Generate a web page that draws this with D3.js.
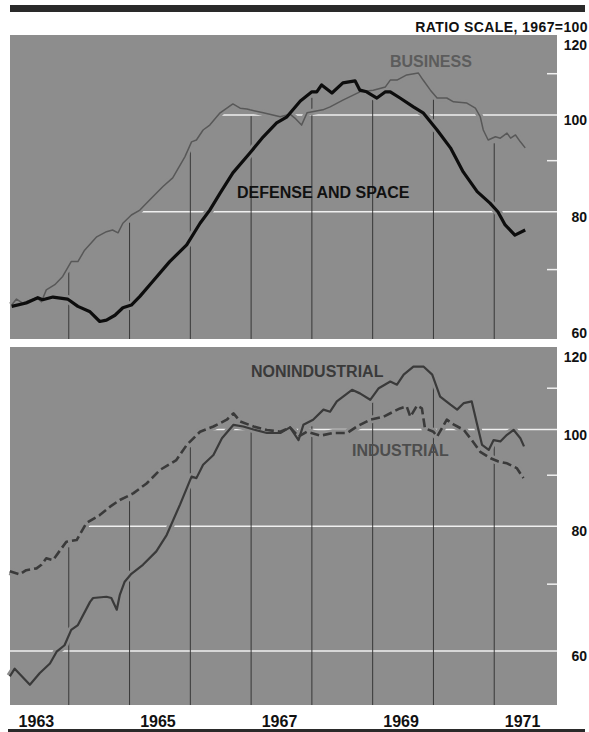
<!DOCTYPE html>
<html>
<head>
<meta charset="utf-8">
<script src="https://cdn.jsdelivr.net/npm/d3@7"></script>
<style>
  body { margin: 0; background: #fff; }
  svg { display: block; font-family: "Liberation Sans", Arial, sans-serif; font-weight: bold; }
  .yr { font-family: "Liberation Sans Narrow", "Liberation Sans", Arial, sans-serif; }
</style>
</head>
<body>
<svg id="chart" width="589" height="732"></svg>
<script>
// ratio scale, 1967 = 100 ; [year, index]
const business = [[1963.06,64.5],[1963.14,65.4],[1963.24,64.8],[1963.47,65.6],[1963.55,65.0],[1963.63,66.8],[1963.77,67.6],[1963.90,68.9],[1964.04,71.3],[1964.15,71.3],[1964.26,73.2],[1964.46,75.5],[1964.62,76.4],[1964.72,76.7],[1964.81,76.2],[1964.89,77.9],[1965.03,79.4],[1965.17,80.3],[1965.33,82.2],[1965.55,84.8],[1965.71,86.5],[1965.91,90.8],[1966.02,94.0],[1966.10,94.4],[1966.21,96.6],[1966.32,97.7],[1966.49,100.5],[1966.70,102.6],[1966.82,101.6],[1966.93,101.4],[1966.98,101.2],[1967.20,100.5],[1967.48,99.6],[1967.64,100.2],[1967.72,99.3],[1967.83,97.7],[1967.92,100.5],[1968.18,101.2],[1968.30,101.9],[1968.51,103.5],[1968.79,105.5],[1969.01,105.9],[1969.21,106.7],[1969.29,108.4],[1969.40,108.4],[1969.56,109.7],[1969.75,110.2],[1969.83,108.4],[1969.95,105.9],[1970.06,104.0],[1970.22,104.0],[1970.33,103.1],[1970.55,102.8],[1970.69,101.6],[1970.77,99.6],[1970.82,96.6],[1970.90,94.4],[1971.02,95.1],[1971.10,94.8],[1971.21,95.9],[1971.27,94.8],[1971.35,95.5],[1971.43,94.0],[1971.51,92.7]];

const defense = [[1963.06,64.3],[1963.30,64.8],[1963.49,65.6],[1963.57,65.3],[1963.74,65.7],[1963.98,65.4],[1964.15,64.3],[1964.35,63.5],[1964.51,62.1],[1964.62,62.3],[1964.76,63.0],[1964.89,64.1],[1965.03,64.5],[1965.17,65.8],[1965.38,68.1],[1965.66,71.3],[1965.94,74.1],[1966.16,77.9],[1966.32,80.3],[1966.49,83.5],[1966.70,87.5],[1966.98,91.6],[1967.20,95.1],[1967.42,98.2],[1967.59,99.6],[1967.81,103.3],[1968.00,105.5],[1968.08,105.5],[1968.16,107.2],[1968.33,105.2],[1968.51,107.7],[1968.71,108.2],[1968.79,105.9],[1968.90,105.5],[1969.07,104.0],[1969.21,105.5],[1969.29,105.5],[1969.45,104.0],[1969.67,101.9],[1969.83,100.5],[1970.06,96.6],[1970.28,92.7],[1970.49,87.7],[1970.72,83.8],[1970.93,81.6],[1971.06,80.0],[1971.18,77.6],[1971.34,75.8],[1971.51,76.7]];

const nonindustrial = [[1963.03,56.6],[1963.11,57.6],[1963.36,55.5],[1963.52,57.0],[1963.69,58.3],[1963.80,59.9],[1963.93,60.8],[1964.04,63.0],[1964.15,63.7],[1964.35,67.2],[1964.40,67.8],[1964.62,68.0],[1964.70,67.8],[1964.79,66.0],[1964.84,68.3],[1964.92,70.4],[1965.03,71.7],[1965.22,73.2],[1965.44,75.5],[1965.61,78.4],[1965.83,84.1],[1966.02,89.7],[1966.10,89.4],[1966.21,92.2],[1966.38,94.3],[1966.52,98.0],[1966.71,101.1],[1966.87,100.7],[1967.04,100.0],[1967.26,99.2],[1967.48,99.2],[1967.64,100.5],[1967.78,97.6],[1967.86,101.1],[1968.02,102.3],[1968.19,104.7],[1968.30,104.2],[1968.41,106.7],[1968.66,109.6],[1968.79,108.7],[1968.96,107.1],[1969.10,110.0],[1969.29,111.7],[1969.40,110.9],[1969.51,113.5],[1969.67,115.6],[1969.84,115.6],[1969.98,113.5],[1970.11,107.9],[1970.28,105.9],[1970.39,104.7],[1970.50,106.3],[1970.63,106.7],[1970.72,101.1],[1970.80,96.5],[1970.91,95.4],[1970.99,97.6],[1971.10,97.3],[1971.21,98.8],[1971.32,99.9],[1971.43,98.0],[1971.49,96.2]];

const industrial = [[1963.03,72.1],[1963.19,71.6],[1963.30,72.3],[1963.47,72.6],[1963.55,73.2],[1963.63,74.3],[1963.74,74.0],[1963.96,77.2],[1964.13,77.5],[1964.29,80.6],[1964.51,82.1],[1964.68,83.7],[1964.84,85.0],[1965.06,86.3],[1965.28,88.3],[1965.50,91.1],[1965.77,93.2],[1965.94,96.5],[1966.16,99.5],[1966.38,100.7],[1966.60,102.3],[1966.71,103.8],[1966.82,101.9],[1967.04,100.7],[1967.26,99.9],[1967.48,99.5],[1967.64,100.5],[1967.78,98.4],[1967.92,99.5],[1968.14,98.6],[1968.35,99.2],[1968.58,99.2],[1968.74,100.7],[1968.96,102.3],[1969.18,103.0],[1969.34,104.2],[1969.45,105.0],[1969.56,105.5],[1969.62,103.0],[1969.73,105.7],[1969.81,105.0],[1969.86,100.3],[1970.00,99.5],[1970.06,98.4],[1970.22,102.3],[1970.33,101.2],[1970.50,99.9],[1970.63,97.6],[1970.77,95.0],[1970.94,93.6],[1971.07,92.9],[1971.21,92.5],[1971.37,91.5],[1971.48,89.4]];

const yearLabels = [1963, 1965, 1967, 1969, 1971];
const gridYears = [1964, 1965, 1966, 1967, 1968, 1969, 1970, 1971];
const labelTicks = [60, 80, 100, 120];
const minorTicks = [70, 90, 110];

const svg = d3.select("#chart");
const panelColor = "#8d8d8d";
const x = d3.scaleLinear().domain([1963, 1972]).range([8, 555]);

// top rule + header
svg.append("rect").attr("x", 10).attr("y", 5).attr("width", 575).attr("height", 7).attr("fill", "#2a2a2a");
svg.append("rect").attr("x", 8).attr("y", 729).attr("width", 577).attr("height", 4).attr("fill", "#2a2a2a");
svg.append("text").attr("x", 588).attr("y", 32).attr("text-anchor", "end")
  .attr("font-size", 14).attr("letter-spacing", 0.4).attr("fill", "#111")
  .text("RATIO SCALE, 1967=100");

const panels = [
  { y0: 35, y1: 339, range: [336.4, 36],
    series: [
      { data: business, color: "#585858", width: 1.5 },
      { data: defense, color: "#0d0d0d", width: 3.2 }
    ],
    labels: [
      { text: "BUSINESS", x: 390, y: 67, color: "#5c5c5c" },
      { text: "DEFENSE AND SPACE", x: 237, y: 198, color: "#111" }
    ] },
  { y0: 347, y1: 705, range: [651, 350.5],
    series: [
      { data: industrial, color: "#3a3a3a", width: 2.6, dash: "9,4" },
      { data: nonindustrial, color: "#3a3a3a", width: 2.2 }
    ],
    labels: [
      { text: "NONINDUSTRIAL", x: 251, y: 377, color: "#3a3a3a" },
      { text: "INDUSTRIAL", x: 352, y: 456, color: "#4d4d4d" }
    ] }
];

function valueAt(data, t) {
  if (t <= data[0][0]) return data[0][1];
  if (t >= data[data.length - 1][0]) return data[data.length - 1][1];
  const i = d3.bisector(d => d[0]).left(data, t);
  const [t0, v0] = data[i - 1], [t1, v1] = data[i];
  return v0 + (v1 - v0) * (t - t0) / (t1 - t0);
}

// first time a series rises to value g
function crossTime(data, g) {
  if (data[0][1] >= g) return 1963;
  for (let i = 1; i < data.length; i++) {
    if (data[i][1] >= g) {
      const [t0, v0] = data[i - 1], [t1, v1] = data[i];
      return t0 + (t1 - t0) * (g - v0) / (v1 - v0);
    }
  }
  return null;
}

panels.forEach(p => {
  const y = d3.scaleLog().domain([60, 120]).range(p.range);
  const g = svg.append("g");

  g.append("rect").attr("x", 10).attr("y", p.y0).attr("width", 547).attr("height", p.y1 - p.y0)
    .attr("fill", panelColor);

  // white ratio lines, only under the curves
  const whites = labelTicks.filter(v => y(v) > p.y0 + 8 && y(v) < p.y1 - 8);
  whites.forEach(v => {
    const ts = p.series.map(s => crossTime(s.data, v)).filter(t => t != null);
    const t = d3.min(ts);
    const xs = t <= 1963 ? 10 : x(t) + 4;
    g.append("line").attr("x1", xs).attr("x2", 557).attr("y1", y(v)).attr("y2", y(v))
      .attr("stroke", "#f0f0f0").attr("stroke-width", 1.5);
  });

  // year lines from bottom up to the top curve
  gridYears.forEach(yr => {
    const top = d3.min(p.series, s => y(valueAt(s.data, yr))) + 6;
    g.append("line").attr("x1", x(yr)).attr("x2", x(yr)).attr("y1", top).attr("y2", p.y1)
      .attr("stroke", "#2e2e2e").attr("stroke-width", 0.9);
  });

  // minor ticks on right edge
  minorTicks.forEach(v => {
    g.append("line").attr("x1", 547).attr("x2", 557).attr("y1", y(v)).attr("y2", y(v))
      .attr("stroke", "#f0f0f0").attr("stroke-width", 1.5);
  });

  const line = d3.line().x(d => x(d[0])).y(d => y(d[1]));

  // halos knock out the year lines
  p.series.forEach(s => {
    g.append("path").attr("d", line(s.data)).attr("fill", "none")
      .attr("stroke", panelColor).attr("stroke-width", s.width + 5).attr("stroke-linejoin", "round");
  });
  p.series.forEach(s => {
    g.append("path").attr("d", line(s.data)).attr("fill", "none")
      .attr("stroke", s.color).attr("stroke-width", s.width)
      .attr("stroke-linejoin", "round")
      .attr("stroke-dasharray", s.dash || null);
  });

  p.labels.forEach(l => {
    g.append("text").attr("x", l.x).attr("y", l.y).attr("font-size", 16).attr("fill", l.color).text(l.text);
  });

  labelTicks.forEach(v => {
    const by = Math.max(p.y0 + 15, Math.min(y(v) + 10, p.y1 - 1));
    g.append("text").attr("x", 587).attr("y", by).attr("text-anchor", "end")
      .attr("font-size", 14).attr("fill", "#111").text(v);
  });
});

// year labels
svg.append("g").attr("class", "yr").selectAll("text").data(yearLabels).join("text")
  .attr("x", d => x(d + 0.5) - 2).attr("y", 727).attr("text-anchor", "middle")
  .attr("font-size", 16).attr("fill", "#111").text(d => d);
</script>
</body>
</html>
